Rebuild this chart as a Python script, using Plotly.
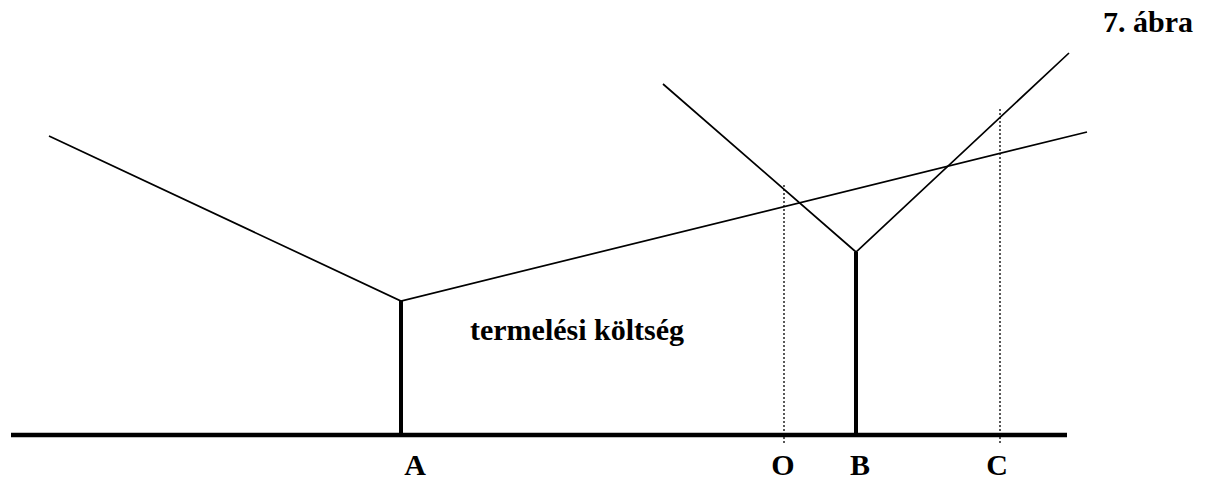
import plotly.graph_objects as go

# Horizontal positions of the marked points (A, O, B, C) and line ends
point_labels = ["A", "O", "B", "C"]
label_x = [415, 783, 860, 997]

# Falling-then-rising cost curve at A
curve_a_x = [49, 401, 1087]
curve_a_y = [299, 134, 303]

# V-shaped curve at B
curve_b_x = [663, 856, 1069]
curve_b_y = [351, 183, 382]

# Thick vertical bars (production cost) at A and B
bar_x = [401, 856]
bar_top = [134, 183]

# Dotted verticals at O and C
dot_x = [784, 1000]
dot_top = [250, 327]
dot_bottom = -8

# Base axis line
base_x = [11, 1067]
base_y = [0, 0]

FONT = "Liberation Serif"
FS = 30

fig = go.Figure()

fig.add_trace(go.Scatter(x=base_x, y=base_y, mode="lines",
                         line=dict(color="black", width=4.5), hoverinfo="skip"))

for x, top in zip(bar_x, bar_top):
    fig.add_trace(go.Scatter(x=[x, x], y=[0, top], mode="lines",
                             line=dict(color="black", width=4), hoverinfo="skip"))

for x, top in zip(dot_x, dot_top):
    fig.add_trace(go.Scatter(x=[x, x], y=[dot_bottom, top], mode="lines",
                             line=dict(color="black", width=1.3, dash="2px,2px"),
                             hoverinfo="skip"))

fig.add_trace(go.Scatter(x=curve_a_x, y=curve_a_y, mode="lines",
                         line=dict(color="black", width=1.7), hoverinfo="skip"))
fig.add_trace(go.Scatter(x=curve_b_x, y=curve_b_y, mode="lines",
                         line=dict(color="black", width=1.7), hoverinfo="skip"))

fig.add_trace(go.Scatter(x=label_x, y=[-32] * len(label_x), mode="text",
                         text=["<b>%s</b>" % t for t in point_labels],
                         textfont=dict(family=FONT, size=FS, color="black"),
                         textposition="middle center", cliponaxis=False,
                         hoverinfo="skip"))

fig.add_annotation(x=577, y=106, text="<b>termelési költség</b>", showarrow=False,
                   font=dict(family=FONT, size=FS, color="black"),
                   xanchor="center", yanchor="middle")
fig.add_annotation(x=1148, y=414, text="<b>7. ábra</b>", showarrow=False,
                   font=dict(family=FONT, size=FS, color="black"),
                   xanchor="center", yanchor="middle")

fig.update_layout(
    width=1214, height=479,
    margin=dict(l=0, r=0, t=0, b=0),
    paper_bgcolor="white", plot_bgcolor="white",
    showlegend=False,
    xaxis=dict(range=[0, 1214], visible=False, fixedrange=True),
    yaxis=dict(range=[-44, 435], visible=False, fixedrange=True),
)

fig.write_html("out.html", config={"displayModeBar": False},
               post_script="document.body.style.margin='0';"
                           "document.body.style.overflow='hidden';")
